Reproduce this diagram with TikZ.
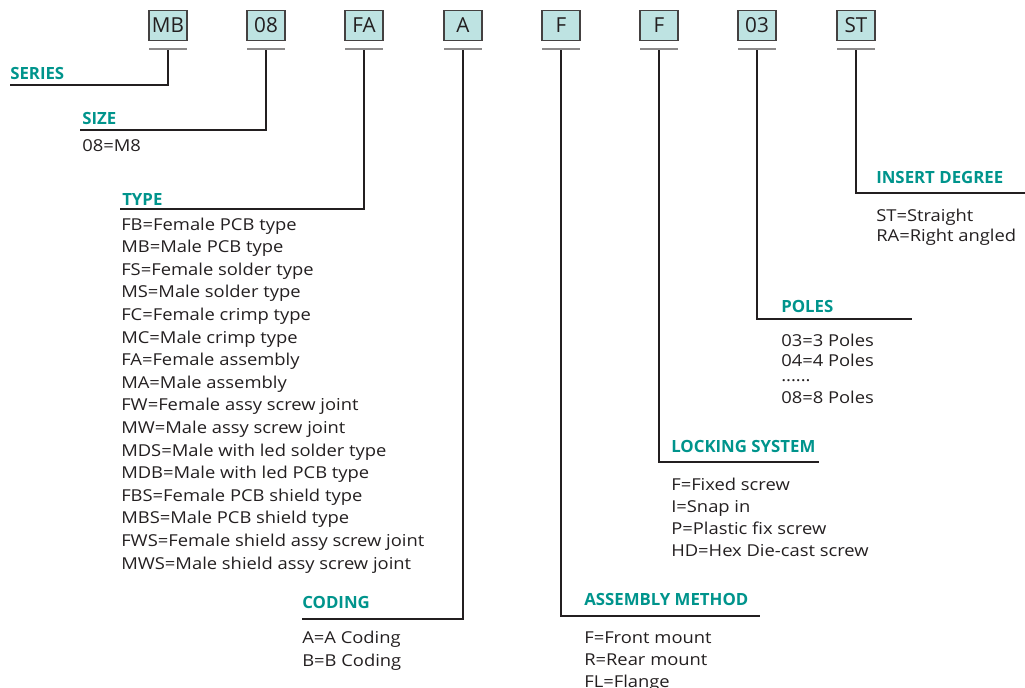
\documentclass[tikz,border=0pt]{standalone}
\usepackage{fontspec}
\setmainfont{Open Sans}[FakeStretch=1.12]
\newfontfamily\plainsans{Open Sans}
\definecolor{codeteal}{RGB}{0,148,140}
\definecolor{codefill}{RGB}{190,227,226}
\definecolor{codeink}{RGB}{35,31,32}
\definecolor{codebar}{RGB}{140,138,138}
\begin{document}
\begin{tikzpicture}[x=0.75pt,y=-0.75pt]
\tikzstyle{code}=[draw=codeink!85,line width=0.9pt,fill=codefill,minimum width=28.5pt,minimum height=22pt,inner sep=0pt,text=codeink,font={\plainsans\fontsize{15.5}{18}\selectfont}]
\tikzstyle{bar}=[fill=codebar,minimum width=28.5pt,minimum height=1.5pt,inner sep=0pt]
\tikzstyle{head}=[anchor=base west,inner sep=0pt,text=codeteal,font={\plainsans\fontsize{12.6}{14}\selectfont\bfseries}]
\tikzstyle{items}=[anchor=base west,inner sep=0pt,align=left,text=codeink,font={\fontsize{12.3}{16.5}\selectfont}]
\tikzstyle{conn}=[draw=codeink,line width=0.8pt]
\useasboundingbox (0,0) rectangle (1025,688);
% code boxes
\node[code] (c1) at (168,25.5) {MB};
\node[code] (c2) at (266,25.5) {08};
\node[code] (c3) at (364,25.5) {FA};
\node[code] (c4) at (463,25.5) {A};
\node[code] (c5) at (561,25.5) {F};
\node[code] (c6) at (659,25.5) {F};
\node[code] (c7) at (757,25.5) {03};
\node[code] (c8) at (856,25.5) {ST};
\node[bar] (u1) at (168,49) {};
\node[bar] (u2) at (266,49) {};
\node[bar] (u3) at (364,49) {};
\node[bar] (u4) at (463,49) {};
\node[bar] (u5) at (561,49) {};
\node[bar] (u6) at (659,49) {};
\node[bar] (u7) at (757,49) {};
\node[bar] (u8) at (856,49) {};
% line ends
\coordinate (e1) at (10,85);
\coordinate (e2) at (80,130);
\coordinate (e3) at (120,209);
\coordinate (e4) at (302,619);
\coordinate (e5) at (760,616);
\coordinate (e6) at (819,462);
\coordinate (e7) at (912,319);
\coordinate (e8) at (1025,193);
\draw[conn] (u1.south) |- (e1);
\draw[conn] (u2.south) |- (e2);
\draw[conn] (u3.south) |- (e3);
\draw[conn] (u4.south) |- (e4);
\draw[conn] (u5.south) |- (e5);
\draw[conn] (u6.south) |- (e6);
\draw[conn] (u7.south) |- (e7);
\draw[conn] (u8.south) |- (e8);
% headings
\node[head] (h1) at (10,80) {SERIES};
\node[head] (h2) at (82,125) {SIZE};
\node[head] (h3) at (122,205) {TYPE};
\node[head] (h4) at (302,608) {CODING};
\node[head] (h5) at (584,605) {ASSEMBLY METHOD};
\node[head] (h6) at (671,452) {LOCKING SYSTEM};
\node[head] (h7) at (781,312) {POLES};
\node[head] (h8) at (876,184) {INSERT DEGREE};
% options (anchored at the last line)
\node[items] (l2) at (82,152) {08=M8};
\node[items,font={\fontsize{12.3}{16.95}\selectfont}] (l3) at (121,569) {FB=Female PCB type\\MB=Male PCB type\\FS=Female solder type\\MS=Male solder type\\FC=Female crimp type\\MC=Male crimp type\\FA=Female assembly\\MA=Male assembly\\FW=Female assy screw joint\\MW=Male assy screw joint\\MDS=Male with led solder type\\MDB=Male with led PCB type\\FBS=Female PCB shield type\\MBS=Male PCB shield type\\FWS=Female shield assy screw joint\\MWS=Male shield assy screw joint};
\node[items,font={\fontsize{12.3}{17.25}\selectfont}] (l4) at (302,666) {A=A Coding\\B=B Coding};
\node[items] (l5) at (584,687) {F=Front mount\\R=Rear mount\\FL=Flange};
\node[items] (l6) at (671,556) {F=Fixed screw\\I=Snap in\\P=Plastic fix screw\\HD=Hex Die-cast screw};
\node[items,font={\fontsize{12.3}{15}\selectfont}] (l7) at (781,403) {03=3 Poles\\04=4 Poles\\[-3.75pt]......\\[1.5pt]08=8 Poles};
\node[items,font={\fontsize{12.3}{15}\selectfont}] (l8) at (876,242) {ST=Straight\\RA=Right angled};
\end{tikzpicture}
\end{document}
